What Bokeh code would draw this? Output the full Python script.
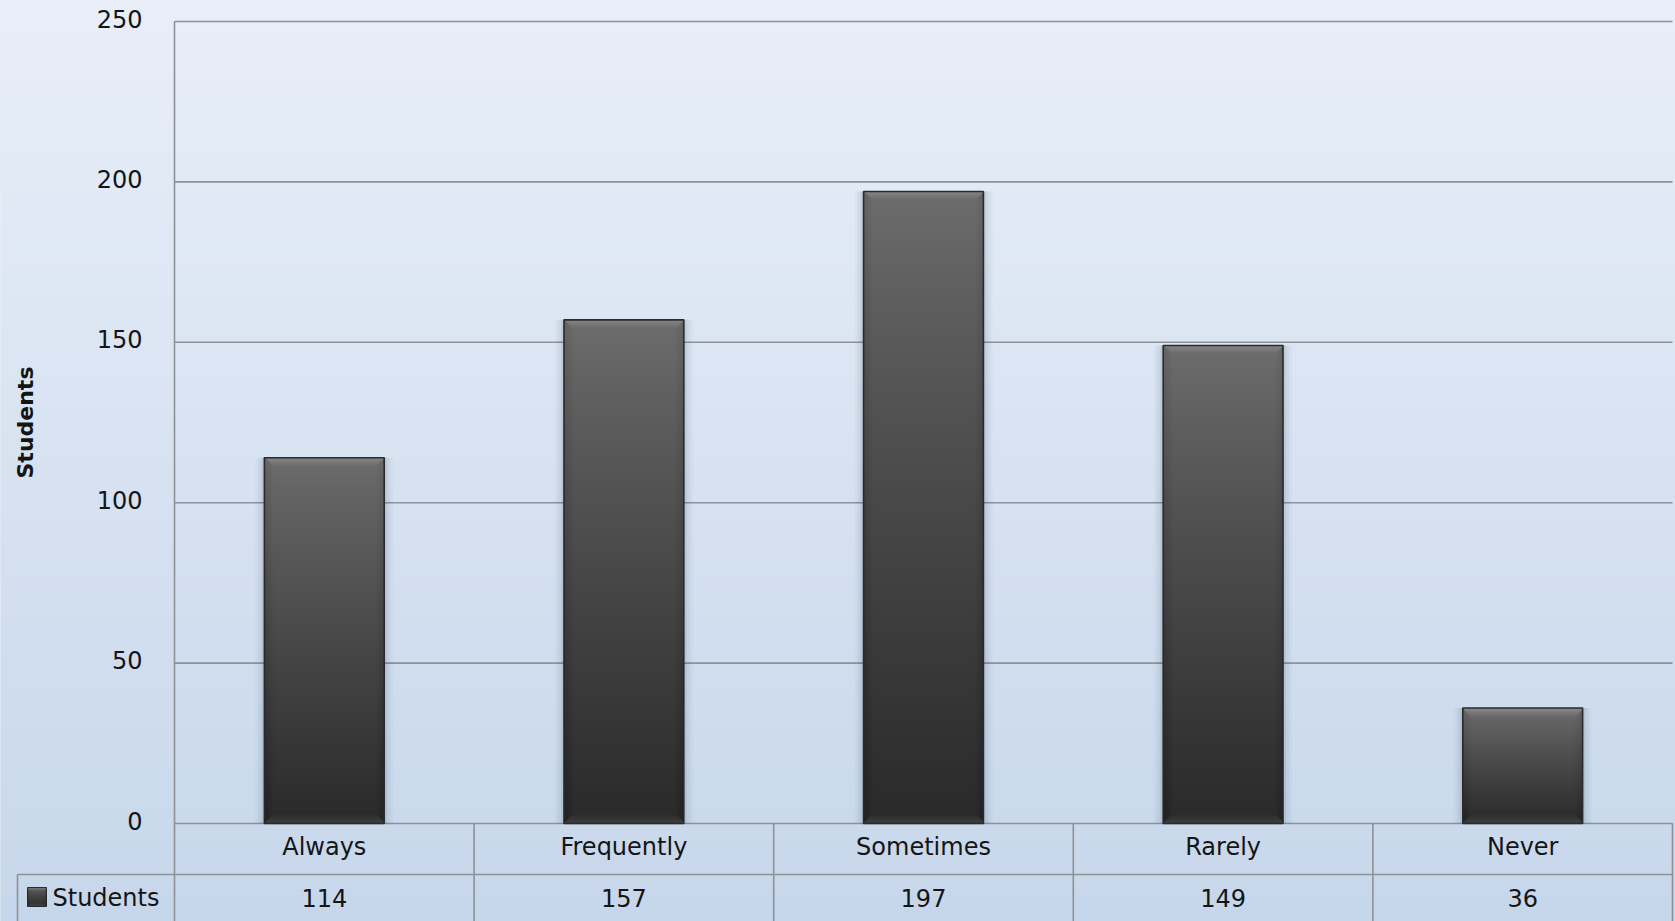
import numpy as np
from bokeh.plotting import figure
from bokeh.models import Range1d, ColumnDataSource
from bokeh.core.properties import value
from bokeh.embed import file_html
from bokeh.resources import INLINE

# ---- data ----
categories = ["Always", "Frequently", "Sometimes", "Rarely", "Never"]
students = [114, 157, 197, 149, 36]
y_ticks = [0, 50, 100, 150, 200, 250]
y_tick_labels = ["0", "50", "100", "150", "200", "250"]
series_name = "Students"
axis_title = "Students"

# ---- page geometry (pixels) ----
W, H = 1675, 921
LEFT, RIGHT = 174.0, 1672.0      # plot area left/right edges
TOP, ZERO = 21.0, 823.0          # y of the 250 line and of the 0 line
ROW_SPLIT = 874.0                # line between category row and value row
LEGEND_LEFT = 17.0
YMAX = 250
n = len(categories)
col_px = (RIGHT - LEFT) / n
unit_px = (ZERO - TOP) / YMAX
BAR_W = 0.4

FONT = "DejaVu Sans"
TXT = "#151515"
GRID = "#8d9299"
TABLE = "#8e9196"


def xd(px):
    return (px - LEFT) / col_px


def yd(py):
    return (ZERO - py) / unit_px


def to_rgba(rgb):
    """float (h, w, 3) array, row 0 at the top -> Bokeh RGBA image (row 0 at the bottom)."""
    h, w, _ = rgb.shape
    img = np.empty((h, w), dtype=np.uint32)
    view = img.view(dtype=np.uint8).reshape((h, w, 4))
    view[..., :3] = np.clip(rgb, 0, 255).astype(np.uint8)
    view[..., 3] = 255
    return np.ascontiguousarray(img[::-1])


def bar_texture(h, w, top=110.0, bottom=42.0, bevel=9):
    r = np.arange(h)[:, None] * np.ones((1, w))
    c = np.ones((h, 1)) * np.arange(w)[None, :]
    t = r / max(h - 1, 1)
    g = top + (bottom - top) * t ** 0.85
    dt, db = r, h - 1 - r
    dside = np.minimum(c, w - 1 - c)
    top_zone = (dt < bevel) & (dt <= dside)
    bot_zone = (db < bevel) & (db <= dside) & ~top_zone
    side_zone = (dside < bevel) & ~top_zone & ~bot_zone
    g = g + np.where(top_zone, 26.0 * (1 - dt / bevel), 0.0)
    g = g + np.where(bot_zone, 20.0 * (1 - db / bevel), 0.0)
    g = g - np.where(side_zone, 9.0 * (1 - dside / bevel), 0.0)
    rgb = np.repeat(g[:, :, None], 3, axis=2)
    return to_rgba(rgb)


p = figure(
    width=W, height=H,
    x_range=Range1d(xd(0), xd(W)), y_range=Range1d(yd(H), yd(0)),
    output_backend="svg", toolbar_location=None, min_border=0,
    x_axis_type=None, y_axis_type=None,
)
p.outline_line_color = None
p.background_fill_color = "#d8e2f0"
p.border_fill_color = "#d8e2f0"

# background: soft vertical blue gradient (slightly oversized to cover the edges)
tt = np.linspace(0, 1, H)[:, None, None]
c_top = np.array([233, 239, 249], dtype=float)
c_bot = np.array([199, 215, 235], dtype=float)
bg = to_rgba(np.repeat(c_top + (c_bot - c_top) * tt, 4, axis=1))
p.image_rgba(image=[bg], x=xd(-6), y=yd(H + 2), dw=xd(W + 6) - xd(-6), dh=yd(-2) - yd(H + 2))

# horizontal grid lines
p.segment(x0=[0] * len(y_ticks), x1=[n] * len(y_ticks), y0=y_ticks, y1=y_ticks,
          line_color=GRID, line_width=1.6)

# bars
centers = [i + 0.5 for i in range(n)]
src = ColumnDataSource(dict(
    cat=categories, x=centers, left=[c - BAR_W / 2 for c in centers],
    top=students, base=[0] * n, label=[str(v) for v in students],
))

# soft shadow around each bar
for pad, alpha in [(9, 0.03), (6, 0.05), (3, 0.08)]:
    p.vbar(x="x", top="top", bottom="base", width=BAR_W + 2 * pad / col_px,
           source=src, fill_color="#2a3a55", fill_alpha=alpha, line_color=None)

w_px = int(round(BAR_W * col_px))
src.data["img"] = [bar_texture(max(int(round(v * unit_px)), 2), w_px) for v in students]
p.image_rgba(image="img", x="left", y="base", dw=BAR_W, dh="top", source=src)
p.vbar(x="x", top="top", bottom="base", width=BAR_W, source=src,
       fill_color=None, line_color="#2a2a2a", line_width=1.6)

# left axis line and data table
p.segment(x0=[0], x1=[0], y0=[YMAX], y1=[yd(H)], line_color=TABLE, line_width=1.6)
p.segment(x0=list(range(1, n + 1)), x1=list(range(1, n + 1)),
          y0=[0] * n, y1=[yd(H)] * n, line_color=TABLE, line_width=1.6)
p.segment(x0=[xd(LEGEND_LEFT)], x1=[n], y0=[yd(ROW_SPLIT)], y1=[yd(ROW_SPLIT)],
          line_color=TABLE, line_width=1.6)
p.segment(x0=[xd(LEGEND_LEFT)], x1=[xd(LEGEND_LEFT)], y0=[yd(ROW_SPLIT)], y1=[yd(H)],
          line_color=TABLE, line_width=1.6)

# y tick labels
p.text(x=[xd(142)] * len(y_ticks), y=y_ticks, text=y_tick_labels,
       text_align="right", text_baseline="middle", y_offset=-3,
       text_font=value(FONT), text_font_size="24px", text_color=TXT)

# y axis title
p.text(x=[xd(25)], y=[yd(422)], text=[axis_title], angle=np.pi / 2,
       text_align="center", text_baseline="middle",
       text_font=value(FONT), text_font_style="bold", text_font_size="22px", text_color=TXT)

# category row
p.text(x="x", y=yd(846), text="cat", source=src,
       text_align="center", text_baseline="middle",
       text_font=value(FONT), text_font_size="24px", text_color=TXT)

# value row
p.text(x="x", y=yd(897), text="label", source=src,
       text_align="center", text_baseline="middle",
       text_font=value(FONT), text_font_size="24px", text_color=TXT)

# legend cell: swatch + series name
sw = bar_texture(19, 19, top=95.0, bottom=45.0, bevel=3)
p.image_rgba(image=[sw], x=xd(27), y=yd(906), dw=19 / col_px, dh=19 / unit_px)
p.quad(left=[xd(27)], right=[xd(46)], bottom=[yd(906)], top=[yd(887)],
       fill_color=None, line_color="#2a2a2a", line_width=1)
p.text(x=[xd(52)], y=[yd(897)], text=[series_name],
       text_align="left", text_baseline="middle",
       text_font=value(FONT), text_font_size="24px", text_color=TXT)

open("out.html", "w").write(file_html(p, INLINE))
